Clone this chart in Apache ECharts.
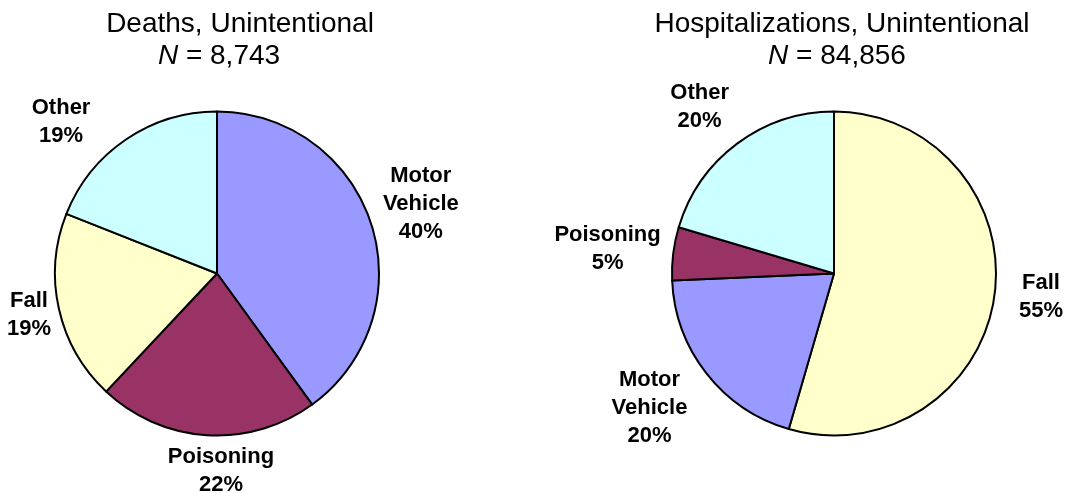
<!DOCTYPE html>
<html lang="en">

<head>
    <meta charset="utf-8">
    <title>Unintentional injury - deaths and hospitalizations</title>
    <script src="https://cdn.jsdelivr.net/npm/echarts@6/dist/echarts.min.js"></script>
    <style>
        html, body { margin: 0; padding: 0; background: #fff; }
        #main { width: 1068px; height: 493px; }
    </style>
</head>

<body>
    <div id="main"></div>
    <script>
        // data, in percent
        var deathsCategories = ['Motor Vehicle', 'Poisoning', 'Fall', 'Other'];
        var deathsValues = [40, 22, 19, 19];
        var deathsN = '8,743';

        var hospCategories = ['Fall', 'Motor Vehicle', 'Poisoning', 'Other'];
        var hospValues = [54.5, 19.8, 5.3, 20.4];
        var hospN = '84,856';

        var categoryColors = {
            'Motor Vehicle': '#9999FF',
            'Poisoning': '#993366',
            'Fall': '#FFFFCC',
            'Other': '#CCFFFF'
        };

        // small nudges so labels sit where the original put them
        var deathsLabelOffsets = [[6, -5], [17, -10], [15, -4], [-39, 20]];
        var hospLabelOffsets = [[1, -6], [-21, 6], [-20, 1], [-10, 0]];

        var FONT = '"Liberation Sans", Arial, sans-serif';
        var R = 162;

        function pieSeries(cats, vals, center) {
            return {
                type: 'pie',
                center: center,
                radius: R,
                startAngle: 90,
                clockwise: true,
                silent: true,
                animation: false,
                label: { show: false },
                labelLine: { show: false },
                emphasis: { disabled: true },
                itemStyle: { borderColor: '#000', borderWidth: 2 },
                data: cats.map(function (c, i) {
                    return { name: c, value: vals[i], itemStyle: { color: categoryColors[c] } };
                })
            };
        }

        // transparent ring outside the pie that only carries the labels
        function labelRing(cats, vals, center, offsets) {
            return {
                type: 'pie',
                center: center,
                radius: [R, 248],
                startAngle: 90,
                clockwise: true,
                silent: true,
                animation: false,
                avoidLabelOverlap: false,
                labelLine: { show: false },
                emphasis: { disabled: true },
                itemStyle: { color: 'rgba(0,0,0,0)', borderWidth: 0 },
                label: {
                    show: true,
                    position: 'inside',
                    color: '#000',
                    fontFamily: FONT,
                    fontWeight: 'bold',
                    fontSize: 22,
                    lineHeight: 28,
                    formatter: function (p) {
                        return p.name.replace(' ', '\n') + '\n' + Math.round(p.percent) + '%';
                    }
                },
                data: cats.map(function (c, i) {
                    return { name: c, value: vals[i], label: { offset: offsets[i] } };
                })
            };
        }

        function titleText(x, y, str) {
            return {
                type: 'text', x: x, y: y,
                style: {
                    text: str, fill: '#000', font: '28px ' + FONT,
                    align: 'center', verticalAlign: 'middle'
                }
            };
        }

        function nText(x, y, n) {
            return {
                type: 'text', x: x, y: y,
                style: {
                    text: '{i|N}{r| = ' + n + '}',
                    align: 'center', verticalAlign: 'middle',
                    rich: {
                        i: { fontFamily: FONT, fontSize: 28, fontStyle: 'italic', fill: '#000' },
                        r: { fontFamily: FONT, fontSize: 28, fill: '#000' }
                    }
                }
            };
        }

        var chart = echarts.init(document.getElementById('main'));
        chart.setOption({
            animation: false,
            graphic: [
                titleText(240, 24, 'Deaths, Unintentional'),
                nText(219, 56, deathsN),
                titleText(842, 24, 'Hospitalizations, Unintentional'),
                nText(837, 56, hospN)
            ],
            series: [
                pieSeries(deathsCategories, deathsValues, [217, 273.5]),
                labelRing(deathsCategories, deathsValues, [217, 273.5], deathsLabelOffsets),
                pieSeries(hospCategories, hospValues, [834, 273.5]),
                labelRing(hospCategories, hospValues, [834, 273.5], hospLabelOffsets)
            ]
        });
        window.onresize = chart.resize;
    </script>
</body>

</html>
